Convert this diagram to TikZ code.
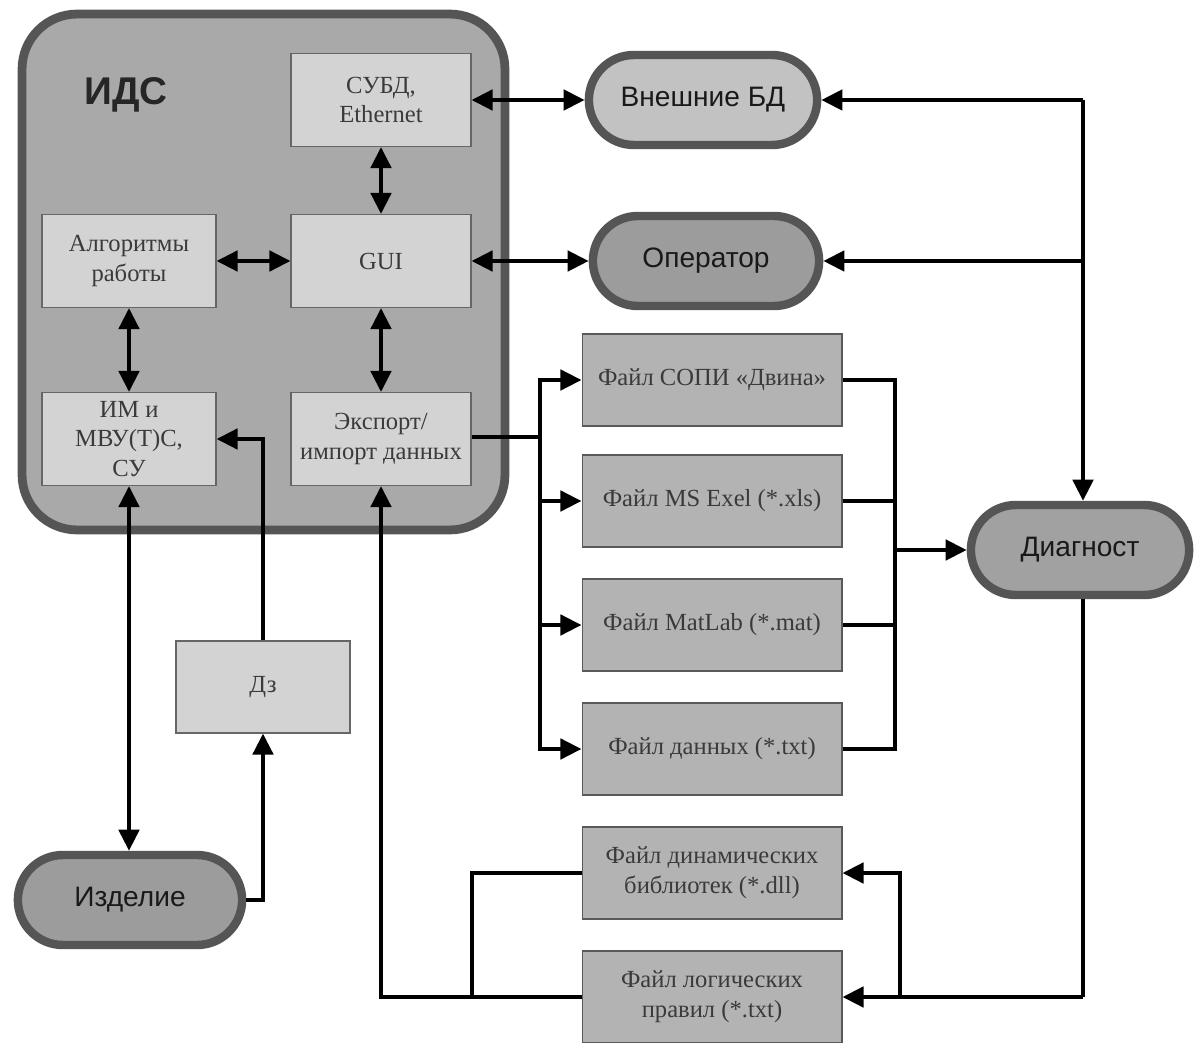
\documentclass[tikz,border=0pt]{standalone}
\usepackage{fontspec}
\setmainfont{Liberation Serif}
\newfontfamily\sansf{Liberation Sans}
\usetikzlibrary{arrows.meta,shapes.misc}
\definecolor{idsfill}{HTML}{A9A9A9}
\definecolor{idsborder}{HTML}{555555}
\definecolor{inner}{HTML}{D3D3D3}
\definecolor{filebox}{HTML}{B3B3B3}
\definecolor{boxtext}{HTML}{3A3A3A}
\definecolor{extfill}{HTML}{C2C2C2}
\definecolor{opfill}{HTML}{9C9C9C}
\begin{document}
\begin{tikzpicture}[x=0.02cm,y=-0.02cm,
  innerbox/.style={draw=gray!80!black,line width=0.6pt,fill=inner,minimum width=3.6cm,minimum height=1.86cm,align=center,text=boxtext,font=\fontsize{14}{17}\selectfont,inner sep=2pt},
  filebx/.style={draw=gray!70!black,line width=0.6pt,fill=filebox,minimum width=5.2cm,minimum height=1.84cm,align=center,text=boxtext,font=\fontsize{14}{17}\selectfont,inner sep=2pt},
  stad/.style={rounded rectangle,draw=idsborder,line width=4.8pt,minimum width=4.6cm,minimum height=1.8cm,font=\sansf\fontsize{16}{18}\selectfont,text=black!90},
  ln/.style={line width=2.4pt,draw=black},
  arr/.style={ln,-{Triangle[length=12pt,width=11.5pt]}},
  darr/.style={ln,{Triangle[length=12pt,width=11.5pt]}-{Triangle[length=12pt,width=11.5pt]}}]
\useasboundingbox (0,0) rectangle (1195,1043);
\fill[white] (0,0) rectangle (1195,1043);
% outer IDS block
\node[draw=idsborder,line width=5pt,fill=idsfill,rounded corners=1.1cm,minimum width=9.66cm,minimum height=10.32cm] (ids) at (263.5,272) {};
\node[font=\sansf\bfseries\fontsize{22}{24}\selectfont,text=black!85] (idsl) at (126,95) {ИДС};
% inner boxes
\node[innerbox] (subd) at (381,100) {СУБД,\\Ethernet};
\node[innerbox,minimum width=3.48cm] (alg) at (129,261) {Алгоритмы\\работы};
\node[innerbox] (gui) at (381,261) {GUI};
\node[innerbox,minimum width=3.48cm] (im) at (129,439) {ИМ и\\МВУ(Т)С,\\СУ};
\node[innerbox] (exp) at (381,439) {Экспорт/\\импорт данных};
\node[innerbox,minimum width=3.48cm,minimum height=1.84cm] (dz) at (263,687) {Дз};
% terminals
\node[stad,fill=extfill,minimum width=4.8cm] (ext) at (703,100) {Внешние БД};
\node[stad,fill=opfill,minimum width=4.76cm] (op) at (706,261) {Оператор};
\node[stad,fill=opfill!95!white,minimum width=4.6cm] (diag) at (1080,550) {Диагност};
\node[stad,fill=opfill,minimum width=4.72cm] (izd) at (130,900) {Изделие};
% files
\node[filebx] (f1) at (712,380) {Файл СОПИ «Двина»};
\node[filebx] (f2) at (712,501) {Файл MS Exel (*.xls)};
\node[filebx] (f3) at (712,625) {Файл MatLab (*.mat)};
\node[filebx] (f4) at (712,749) {Файл данных (*.txt)};
\node[filebx] (dll) at (712,873) {Файл динамических\\библиотек (*.dll)};
\node[filebx] (rules) at (712,997) {Файл логических\\правил (*.txt)};
% internal connections
\draw[darr] (subd.east) -- (ext.west);
\draw[darr] (subd.south) -- (gui.north);
\draw[darr] (alg.east) -- (gui.west);
\draw[darr] (gui.east) -- (op.west);
\draw[darr] (gui.south) -- (exp.north);
\draw[darr] (alg.south) -- (im.north);
\draw[darr] (im.south) -- (im.south |- izd.north);
% export bus
\coordinate (b1) at (540,437);
\draw[ln] (exp.east |- b1) -- (b1);
\draw[arr] (b1) |- (f1.west);
\draw[arr] (b1) |- (f2.west);
\draw[arr] (b1) |- (f3.west);
\draw[arr] (b1) |- (f4.west);
% files to diagnost
\coordinate (b2) at (895,550);
\draw[ln] (f1.east) -| (b2);
\draw[ln] (f4.east) -| (b2);
\draw[ln] (f2.east) -- (f2.east -| b2);
\draw[ln] (f3.east) -- (f3.east -| b2);
\draw[arr] (b2) -- (diag.west);
% right bus
\coordinate (r1) at (1083,100);
\coordinate (r2) at (1083,997);
\coordinate (r3) at (900,997);
\draw[arr] (r1) -- (ext.east);
\draw[arr] (r1 |- op.east) -- (op.east);
\draw[arr] (r1) -- (r1 |- diag.north);
\draw[ln] (r1 |- diag.south) -- (r2);
\draw[arr] (r2) -- (rules.east);
\draw[arr] (r3) |- (dll.east);
% loop back to export
\coordinate (l1) at (472,997);
\draw[ln] (dll.west) -| (l1);
\draw[arr] (rules.west) -| (exp.south);
% product and Dz
\draw[arr] (izd.east) -| (dz.south);
\draw[arr] (dz.north) |- (im.east);
\end{tikzpicture}
\end{document}
